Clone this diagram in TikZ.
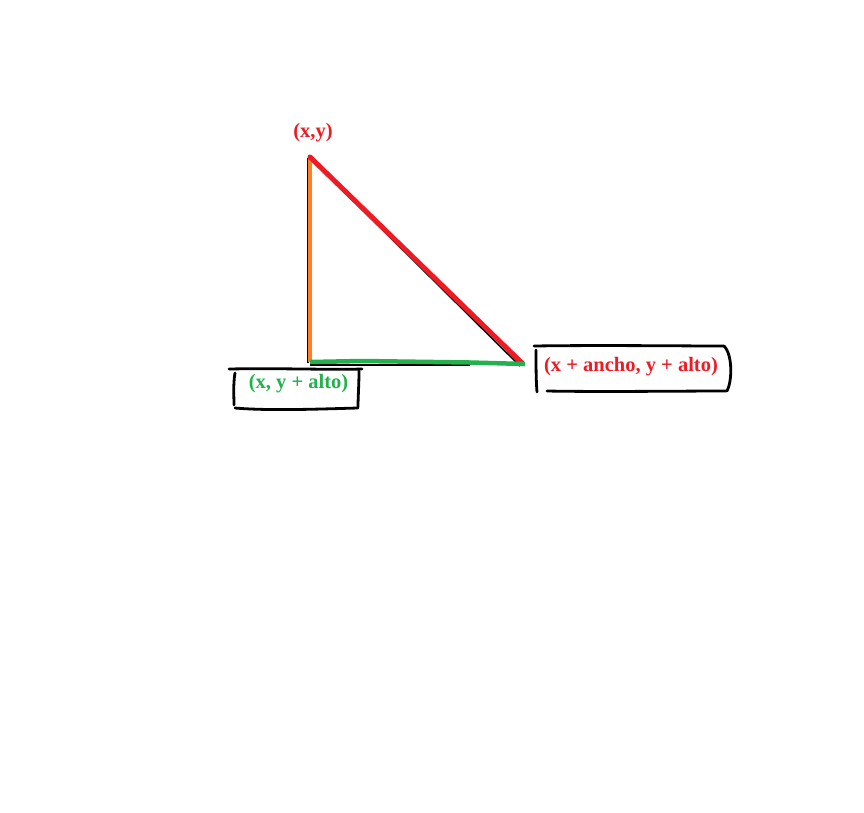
\documentclass[tikz,border=0pt]{standalone}
\usepackage{fontspec}
\setmainfont{Liberation Serif}
\definecolor{pred}{HTML}{ED1C24}
\definecolor{pgreen}{HTML}{22B14C}
\definecolor{porange}{HTML}{FF7F27}
\tikzset{
  thinblack/.style={draw=black, line width=1.6pt},
  boxline/.style={draw=black, line width=2.8pt, line cap=round, line join=round},
  lbl/.style={font=\fontsize{20.5}{24}\selectfont\bfseries, inner sep=0pt, anchor=base},
}
\begin{document}
\begin{tikzpicture}[x=1pt,y=-1pt]
\useasboundingbox (0,0) rectangle (864,812);
\fill[white] (0,0) rectangle (864,812);
% vertices
\coordinate (A) at (310,157);
\coordinate (B) at (310,362);
\coordinate (C) at (522,363);
\coordinate (Ce) at (525,364);
% black underlying strokes
\draw[thinblack] (312,160) -- (520,366);
\draw[thinblack] (308,158) -- (308,363);
\draw[thinblack] (310,365) -- (470,365);
% colored sides
\draw[porange, line width=4pt] (A) -- (B);
\draw[pred, line width=5pt, line cap=round] (A) -- (C);
\draw[pgreen, line width=4.5pt] (B) -- (362,361) -- (470,362.5) -- (Ce);
% labels
\node[lbl, text=pred] (lA) at (313,137) {(x,y)};
\node[lbl, text=pgreen] (lB) at (298.5,388) {(x, y + alto)};
\node[lbl, text=pred] (lC) at (631,371) {(x + ancho, y + alto)};
% hand drawn boxes
\draw[boxline] (229,369) .. controls (280,368) and (330,370) .. (362,369);
\draw[boxline] (235,373) .. controls (233,385) and (234,396) .. (234,405);
\draw[boxline] (235,408) .. controls (270,411) and (320,409) .. (358,408);
\draw[boxline] (359,371) .. controls (359,385) and (358,397) .. (358,407);
\draw[boxline] (534,346) .. controls (600,345) and (680,346) .. (724,346);
\draw[boxline] (536,350) .. controls (536,365) and (536,380) .. (537,392);
\draw[boxline] (547,391) .. controls (600,392) and (680,391) .. (726,391);
\draw[boxline] (724,346) .. controls (733,355) and (732,382) .. (727,391);
\end{tikzpicture}
\end{document}
